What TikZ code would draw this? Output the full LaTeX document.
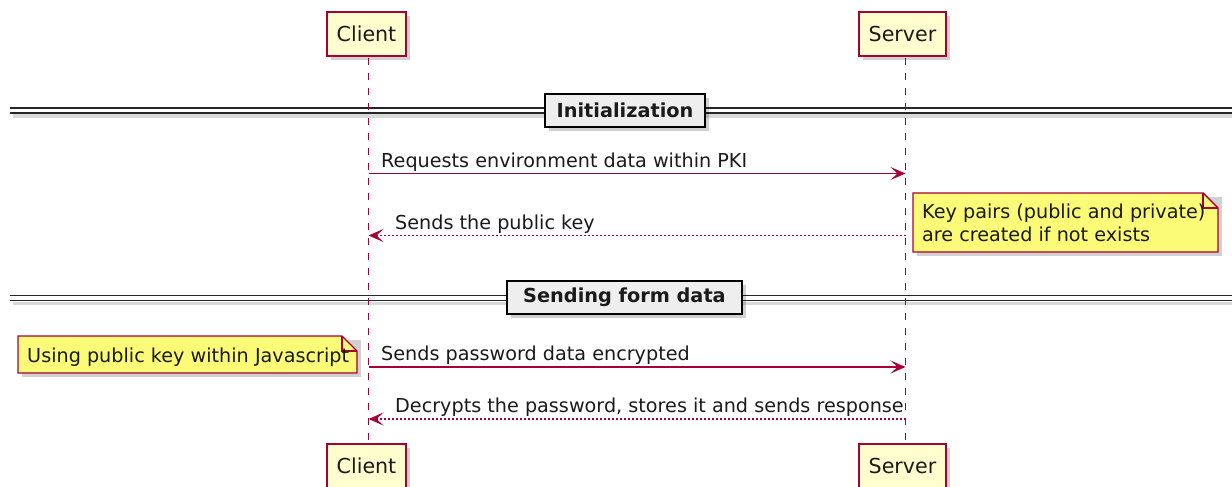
\documentclass[tikz,border=0pt]{standalone}
\usepackage{fontspec}
\setmainfont{DejaVu Sans}
\usetikzlibrary{arrows.meta,shadows}
\definecolor{pred}{HTML}{A80036}
\definecolor{pfill}{HTML}{FEFECE}
\definecolor{nfill}{HTML}{FBFB77}
\definecolor{sepfill}{HTML}{EEEEEE}
\definecolor{txt}{HTML}{1A1A1A}
\begin{document}
\begin{tikzpicture}[x=1pt,y=-1pt,
  lbl/.style={font=\fontsize{19.2}{23}\selectfont, inner sep=0pt, text=txt},
  shadowed/.style={drop shadow={shadow xshift=4pt, shadow yshift=-4pt, fill=black, opacity=0.18}},
  participant/.style={draw=pred, line width=1.6pt, fill=pfill, minimum height=44pt,
    inner sep=0pt, font=\fontsize{20.6}{24}\selectfont, text=txt, shadowed},
  lifeline/.style={draw=pred, line width=1.6pt, dash pattern=on 7.5pt off 7.5pt},
  sepbox/.style={draw=black, line width=2pt, fill=sepfill, minimum height=33pt, inner sep=0pt,
    font=\fontsize{19.3}{23}\selectfont\bfseries, text=txt, shadowed},
  sepline/.style={draw=black!85, line width=1.5pt},
  sepshadow/.style={draw=black, opacity=0.15, line width=3.5pt},
  msg/.style={draw=pred, line width=1.5pt, -{Stealth[length=15pt,width=13pt,inset=7pt]}},
  reply/.style={msg, dash pattern=on 2pt off 2pt},
  notebox/.style={draw=pred, line width=1.4pt, fill=nfill},
  noteshadow/.style={fill=black, opacity=0.18}
]
\useasboundingbox (0,0) rectangle (1232,487);

% separator double lines
\foreach \yy in {110.5, 298} {
  \draw[sepshadow] (13,\yy+5.5) -- (1232,\yy+5.5);
  \draw[sepline] (10,\yy-2.4) -- (1232,\yy-2.4);
  \draw[sepline] (10,\yy+2.4) -- (1232,\yy+2.4);
}

% participants
\node[participant, minimum width=79pt] (ct) at (366.5,34) {Client};
\node[participant, minimum width=87pt] (st) at (902.5,34) {Server};
\node[participant, minimum width=79pt] (cb) at (366.5,466) {Client};
\node[participant, minimum width=87pt] (sb) at (902.5,466) {Server};

% lifelines
\draw[lifeline] ([xshift=2pt,yshift=-0.8pt]ct.south) -- ([xshift=2pt,yshift=0.8pt]cb.north);
\draw[lifeline] ([xshift=3pt,yshift=-0.8pt]st.south) -- ([xshift=3pt,yshift=0.8pt]sb.north);

% separator boxes
\node[sepbox, minimum width=160pt] (sep1) at (625,110.5) {Initialization};
\node[sepbox, minimum width=235pt] (sep2) at (624.5,297) {Sending form data};

% message anchor points on the lifelines
\coordinate (c1) at (368.5,173.5); \coordinate (s1) at (905.5,173.5);
\coordinate (c2) at (368.5,235.5); \coordinate (s2) at (905.5,235.5);
\coordinate (c3) at (368.5,367); \coordinate (s3) at (905.5,367);
\coordinate (c4) at (368.5,419); \coordinate (s4) at (905.5,419);

\draw[msg] (c1) -- (s1);
\node[lbl, anchor=base west] (m1) at (381,167) {Requests environment data within PKI};
\draw[reply] (s2) -- (c2);
\node[lbl, anchor=base west] (m2) at (395,229) {Sends the public key};
\draw[msg] (c3) -- (s3);
\node[lbl, anchor=base west] (m3) at (381,360.5) {Sends password data encrypted};
\draw[reply] (s4) -- (c4);
\node[lbl, anchor=base west] (m4) at (395,412.5) {Decrypts the password, stores it and sends response};

% right note
\fill[noteshadow] (917,197) rectangle (1222,256);
\draw[notebox] (913,193) -- (1203,193) -- (1218,208) -- (1218,252) -- (913,252) -- cycle;
\draw[pred, line width=1.4pt] (1203,193) -- (1203,208) -- (1218,208);
\node[lbl, anchor=base west, align=left] (nr) at (922,241) {Key pairs (public and private)\\are created if not exists};

% left note
\fill[noteshadow] (22,340) rectangle (361,377);
\draw[notebox] (18,336) -- (342,336) -- (357,351) -- (357,373) -- (18,373) -- cycle;
\draw[pred, line width=1.4pt] (342,336) -- (342,351) -- (357,351);
\node[lbl, anchor=base west] (nl) at (27,362) {Using public key within Javascript};
\end{tikzpicture}
\end{document}
